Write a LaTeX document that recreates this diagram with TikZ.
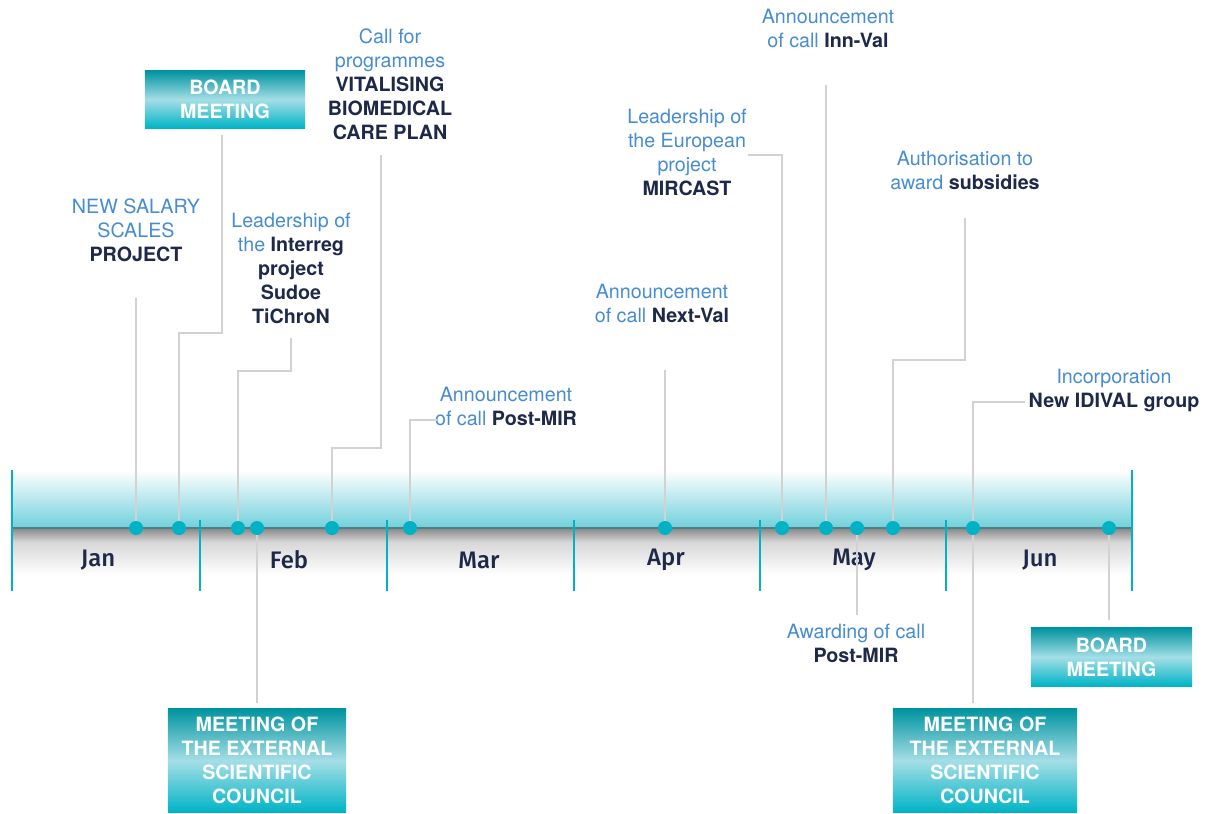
\documentclass[tikz,border=0pt]{standalone}
\usepackage{fontspec}
\setmainfont{TeX Gyre Heros}
\newfontfamily\monthfont{Fira Sans}[UprightFont=* Medium]
\definecolor{lightblue}{RGB}{70,140,210}
\definecolor{navy}{RGB}{30,40,72}
\definecolor{teal}{RGB}{0,178,195}
\definecolor{leadgray}{RGB}{210,210,210}
\definecolor{bandteal}{RGB}{112,208,220}
\definecolor{shadowgray}{RGB}{135,135,135}
\definecolor{shadowlight}{RGB}{215,215,215}
\definecolor{axisline}{RGB}{70,130,135}
\definecolor{boxtop}{RGB}{0,148,160}
\definecolor{boxmid}{RGB}{165,222,230}
\definecolor{boxbot}{RGB}{0,180,198}
\newcommand{\blu}[1]{\textcolor{lightblue}{#1}}
\begin{document}
\begin{tikzpicture}[x=0.025cm, y=-0.025cm]
 \tikzstyle{lbl} = [align=center, inner sep=0pt, text=navy, font=\fontsize{14}{17.07}\selectfont];
 \tikzstyle{board} = [align=center, inner sep=0pt, text=white, font=\fontsize{14}{17.07}\selectfont\bfseries, top color=boxtop, bottom color=boxbot, middle color=boxmid];
 \tikzstyle{dot} = [circle, fill=teal, inner sep=0pt, minimum size=0.35cm];
 \tikzstyle{lead} = [draw=leadgray, line width=1.8pt];
 \tikzstyle{tick} = [draw=teal, line width=1.4pt];
\useasboundingbox (0,0) rectangle (1216,814);

\fill [top color=white, bottom color=bandteal] (12,470) rectangle (1132,528);
\fill [top color=shadowgray, bottom color=shadowlight] (12,528) rectangle (1132,542);
\fill [top color=shadowlight, bottom color=white] (12,542) rectangle (1132,575);
\draw [axisline, line width=0.8pt] (12,528) -- (1132,528);
\draw [tick] (12,470) -- (12,591);
\draw [tick] (1132,470) -- (1132,591);
\foreach \x in {200,387,574,760,946}
  \draw [tick] (\x,520) -- (\x,591);
\foreach \m/\x [count=\i] in {Jan/98,Feb/289,Mar/479,Apr/666,May/854,Jun/1040}
  \node [text=navy, font=\monthfont\fontsize{17}{19}\selectfont] (m\i) at (\x,560) {\m};

\foreach \x [count=\i] in {136,179,238,257,332,410,665,782,826,857,893,973,1109}
  \node [dot] (d\i) at (\x,528) {};

\node [lbl] (t1) at (136,230) {\blu{NEW SALARY}\\\blu{SCALES}\\\textbf{PROJECT}};
\node [board, minimum width=4cm, minimum height=1.425cm] (b1) at (225,99.5) {BOARD\\MEETING};
\node [lbl] (t2) at (291,268) {\blu{Leadership of}\\\blu{the} \textbf{Interreg}\\\textbf{project}\\\textbf{Sudoe}\\\textbf{TiChroN}};
\node [board, minimum width=4.45cm, minimum height=2.575cm] (b2) at (257,760.5) {MEETING OF\\THE EXTERNAL\\SCIENTIFIC\\COUNCIL};
\node [lbl] (t3) at (390,84.5) {\blu{Call for}\\\blu{programmes}\\\textbf{VITALISING}\\\textbf{BIOMEDICAL}\\\textbf{CARE PLAN}};
\node [lbl] (t4) at (506,406) {\blu{Announcement}\\\blu{of call} \textbf{Post-MIR}};
\node [lbl] (t5) at (662,303) {\blu{Announcement}\\\blu{of call} \textbf{Next-Val}};
\node [lbl] (t6) at (687,152) {\blu{Leadership of}\\\blu{the European}\\\blu{project}\\\textbf{MIRCAST}};
\node [lbl] (t7) at (828,28) {\blu{Announcement}\\\blu{of call} \textbf{Inn-Val}};
\node [lbl] (t8) at (856,643) {\blu{Awarding of call}\\\textbf{Post-MIR}};
\node [lbl] (t9) at (965,170) {\blu{Authorisation to}\\\blu{award} \textbf{subsidies}};
\node [lbl] (t10) at (1114,390) {\blu{Incorporation}\\\textbf{New IDIVAL group}};
\node [board, minimum width=4.6cm, minimum height=2.575cm] (b3) at (985,760.5) {MEETING OF\\THE EXTERNAL\\SCIENTIFIC\\COUNCIL};
\node [board, minimum width=4.025cm, minimum height=1.45cm] (b4) at (1111.5,657) {BOARD\\MEETING};

\coordinate (e1) at (136,298);
\coordinate (k2) at (222,333);
\coordinate (e2) at (222,135);
\coordinate (k3) at (291,371);
\coordinate (e3) at (291,338);
\coordinate (e4) at (257,703);
\coordinate (k5) at (381,448);
\coordinate (e5) at (381,155);
\coordinate (e6) at (437,420);
\coordinate (e7) at (665,370);
\coordinate (e8) at (748,155);
\coordinate (e9) at (826,85);
\coordinate (e10) at (857,615);
\coordinate (k11) at (965,360);
\coordinate (e11) at (965,218);
\coordinate (e12) at (1025,402);
\coordinate (f12) at (973,703);
\coordinate (e13) at (1109,620);

\draw [lead] (d1) -- (e1);
\draw [lead] (d2) |- (k2) -- (e2);
\draw [lead] (d3) |- (k3) -- (e3);
\draw [lead] (d4) -- (e4);
\draw [lead] (d5) |- (k5) -- (e5);
\draw [lead] (d6) |- (e6);
\draw [lead] (d7) -- (e7);
\draw [lead] (d8) |- (e8);
\draw [lead] (d9) -- (e9);
\draw [lead] (d10) -- (e10);
\draw [lead] (d11) |- (k11) -- (e11);
\draw [lead] (d12) |- (e12);
\draw [lead] (d12) -- (f12);
\draw [lead] (d13) -- (e13);

\end{tikzpicture}
\end{document}
